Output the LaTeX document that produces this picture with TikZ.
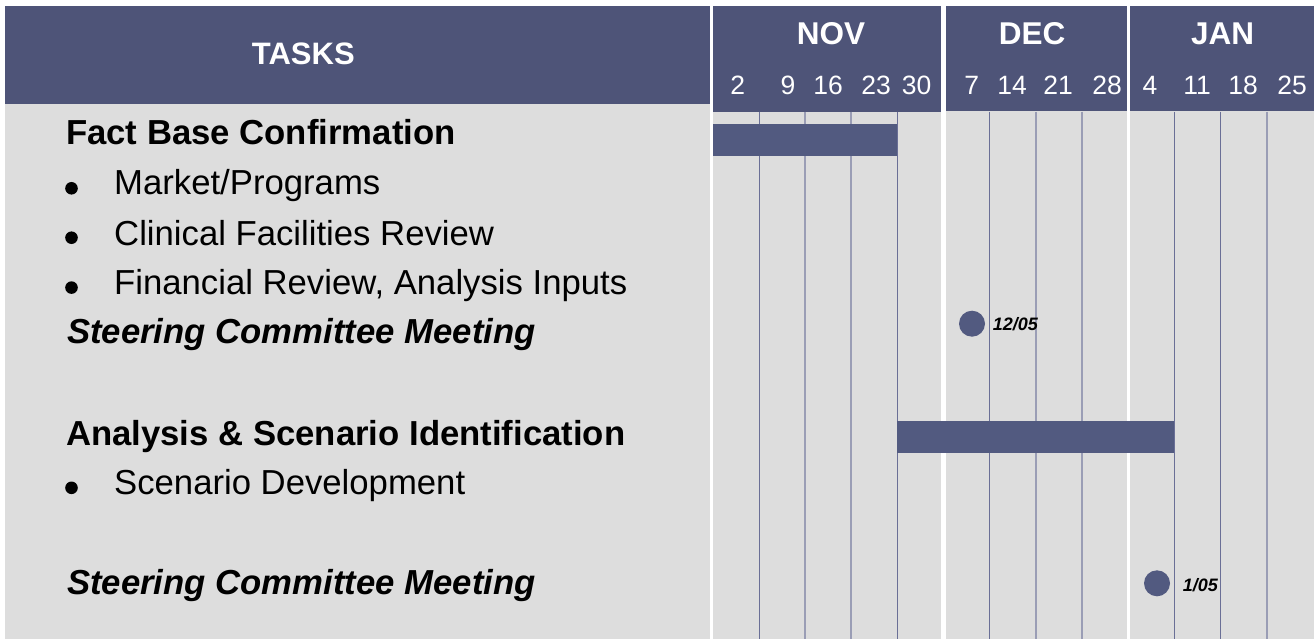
\documentclass[tikz,border=0pt]{standalone}
\usepackage{fontspec}
\setmainfont{Liberation Sans}
\definecolor{hdrblue}{HTML}{4E5478}
\definecolor{barblue}{HTML}{525A80}
\definecolor{panelgray}{HTML}{DDDDDD}
\definecolor{griddark}{HTML}{6A6F96}
\definecolor{gridlight}{HTML}{9A9DB5}
\begin{document}
\begin{tikzpicture}[x=1pt,y=-1pt,
  tasktxt/.style={anchor=base west,inner sep=0pt,font=\fontsize{34.7}{40}\selectfont},
  taskhead/.style={tasktxt,font=\fontsize{34.7}{40}\selectfont\bfseries},
  meeting/.style={tasktxt,font=\fontsize{34.7}{40}\selectfont\bfseries\itshape},
  dotbullet/.style={circle,fill=black,inner sep=0pt,minimum size=12.6pt},
  monthlbl/.style={anchor=base,inner sep=0pt,text=white,font=\fontsize{31.5}{36}\selectfont\bfseries},
  weeklbl/.style={anchor=base,inner sep=0pt,text=white,font=\fontsize{26.5}{30}\selectfont},
  milestone/.style={circle,fill=barblue,inner sep=0pt,minimum size=26pt},
  mslbl/.style={anchor=base west,inner sep=0pt,font=\fontsize{18}{20}\selectfont\bfseries\itshape},
  gantbar/.style={fill=barblue}]
\useasboundingbox (0,0) rectangle (1314,639);
\fill[white] (0,0) rectangle (1314,639);

% task column
\fill[hdrblue] (5,6) rectangle (710,104.5);
\fill[panelgray] (5,104.5) rectangle (710,639);

% month columns
\fill[hdrblue] (713.3,6) rectangle (941,111.7);
\fill[panelgray] (713.3,111.7) rectangle (941,639);
\fill[hdrblue] (945.5,6) rectangle (1127,111.5);
\fill[panelgray] (945.5,111.5) rectangle (1127,639);
\fill[hdrblue] (1130.3,6) rectangle (1314,111.5);
\fill[panelgray] (1130.3,111.5) rectangle (1314,639);

% week grid
\foreach \gx in {759,897,989,1174,1220}
  \draw[griddark,line width=1pt] (\gx,111.7) -- (\gx,639);
\foreach \gx in {805,851,1036,1082,1267}
  \draw[gridlight,line width=1.1pt] (\gx,111.7) -- (\gx,639);

% header texts
\node[anchor=base,inner sep=0pt,text=white,font=\fontsize{31}{36}\selectfont\bfseries] (tasks) at (303.3,64.3) {TASKS};
\node[monthlbl] (nov) at (831,45) {NOV};
\node[monthlbl] (dec) at (1032,45) {DEC};
\node[monthlbl] (jan) at (1222.5,45) {JAN};

\node[weeklbl] (w1) at (737.8,94.3) {2};
\node[weeklbl] (w2) at (788,94.3) {9};
\node[weeklbl] (w3) at (828,94.3) {16};
\node[weeklbl] (w4) at (876,94.3) {23};
\node[weeklbl] (w5) at (916.5,94.3) {30};
\node[weeklbl] (w6) at (971.7,94.3) {7};
\node[weeklbl] (w7) at (1012,94.3) {14};
\node[weeklbl] (w8) at (1058,94.3) {21};
\node[weeklbl] (w9) at (1107,94.3) {28};
\node[weeklbl] (w10) at (1150,94.3) {4};
\node[weeklbl] (w11) at (1197,94.3) {11};
\node[weeklbl] (w12) at (1243,94.3) {18};
\node[weeklbl] (w13) at (1292,94.3) {25};

% tasks
\node[taskhead] (t1) at (66,145) {Fact Base Confirmation};
\node[dotbullet] (b1) at (71.5,188.3) {};
\node[tasktxt] (t2) at (114,195) {Market/Programs};
\node[dotbullet] (b2) at (71.5,237.7) {};
\node[tasktxt] (t3) at (114,245) {Clinical Facilities Review};
\node[dotbullet] (b3) at (71.5,287.6) {};
\node[tasktxt] (t4) at (114,294.3) {Financial Review, Analysis Inputs};
\node[meeting] (t5) at (67,343.3) {Steering Committee Meeting};
\node[taskhead] (t6) at (66,445) {Analysis \& Scenario Identification};
\node[dotbullet] (b4) at (71.5,487.8) {};
\node[tasktxt] (t7) at (114,494.3) {Scenario Development};
\node[meeting] (t8) at (67,594) {Steering Committee Meeting};

% bars
\fill[gantbar] (712.7,124) rectangle (897.3,156);
\fill[gantbar] (897.3,421) rectangle (1174.3,452.7);

% milestones
\node[milestone] (m1) at (972,323.7) {};
\node[mslbl] (m1l) at (992.7,330) {12/05};
\node[milestone] (m2) at (1157,583.3) {};
\node[mslbl] (m2l) at (1182.7,591) {1/05};
\end{tikzpicture}
\end{document}
